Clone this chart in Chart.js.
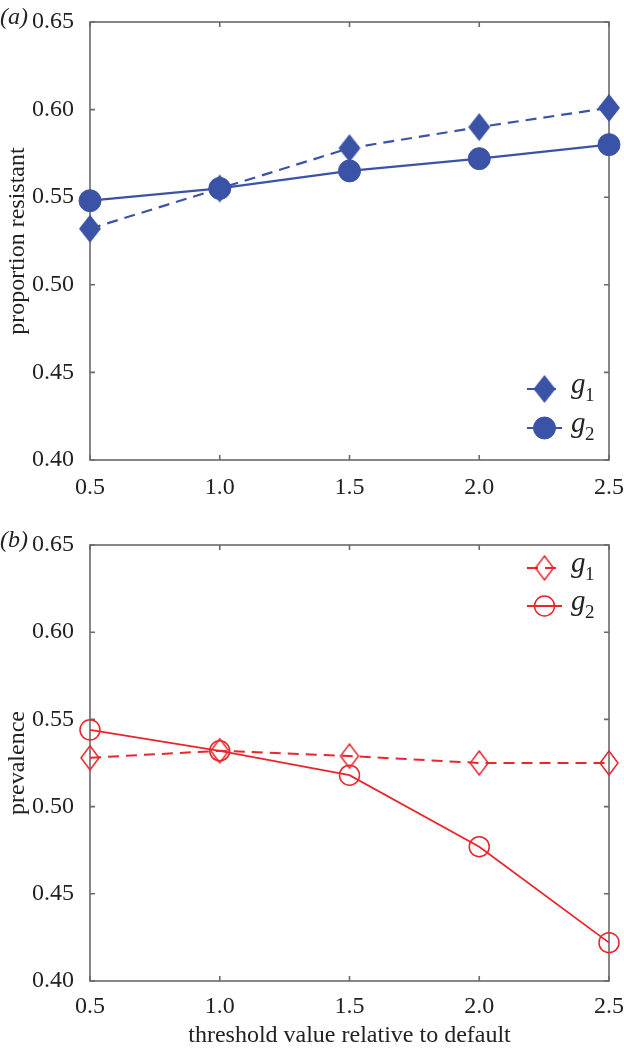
<!DOCTYPE html>
<html lang="en">
<head>
<meta charset="UTF-8">
<title>threshold value relative to default</title>
<script src="https://cdn.jsdelivr.net/npm/chart.js"></script>
<style>
  body { margin: 0; background: #fff; }
  .panel { width: 624px; height: 526px; }
</style>
</head>
<body>
<div class="panel"><canvas id="chartA" width="624" height="526"></canvas></div>
<div class="panel"><canvas id="chartB" width="624" height="526"></canvas></div>
<script>
// data
const thresholds = [0.5, 1.0, 1.5, 2.0, 2.5];
const resistantG1 = [0.532, 0.555, 0.578, 0.590, 0.601];
const resistantG2 = [0.548, 0.555, 0.565, 0.572, 0.580];
const prevalenceG1 = [0.528, 0.532, 0.529, 0.525, 0.525];
const prevalenceG2 = [0.544, 0.532, 0.518, 0.477, 0.422];
const xTicks = [0.5, 1.0, 1.5, 2.0, 2.5];
const yTicks = [0.40, 0.45, 0.50, 0.55, 0.60, 0.65];

const BLUE = '#3b53a6';
const RED = '#e8262c';
const FRAME = '#6a6a6a';
const SERIF = "'Liberation Serif', serif";

Chart.defaults.font.family = SERIF;
Chart.defaults.font.size = 24;
Chart.defaults.color = '#222';

// tall MATLAB-like diamond as a point image
function diamond(w, h, color, filled) {
  const c = document.createElement('canvas');
  c.width = w + 4; c.height = h + 4;
  const g = c.getContext('2d');
  const cx = c.width / 2, cy = c.height / 2;
  g.beginPath();
  g.moveTo(cx, cy - h / 2);
  g.lineTo(cx + w / 2, cy);
  g.lineTo(cx, cy + h / 2);
  g.lineTo(cx - w / 2, cy);
  g.closePath();
  if (filled) { g.fillStyle = color; g.fill(); }
  else { g.strokeStyle = color; g.lineWidth = 1.5; g.stroke(); }
  return c;
}

function pts(values) {
  return thresholds.map((t, i) => ({ x: t, y: values[i] }));
}

// box frame + inward tick marks
const framePlugin = {
  id: 'frame',
  beforeDatasetsDraw(chart) {
    const { ctx, chartArea: a, scales: { x, y } } = chart;
    ctx.save();
    ctx.strokeStyle = FRAME;
    ctx.lineWidth = 1.6;
    ctx.strokeRect(a.left, a.top, a.width, a.height);
    ctx.beginPath();
    x.ticks.forEach(t => {
      const px = x.getPixelForValue(t.value);
      ctx.moveTo(px, a.bottom); ctx.lineTo(px, a.bottom - 5);
      ctx.moveTo(px, a.top); ctx.lineTo(px, a.top + 5);
    });
    y.ticks.forEach(t => {
      const py = y.getPixelForValue(t.value);
      ctx.moveTo(a.left, py); ctx.lineTo(a.left + 5, py);
      ctx.moveTo(a.right, py); ctx.lineTo(a.right - 5, py);
    });
    ctx.stroke();
    ctx.restore();
  }
};

// legend: line through marker, italic g with subscript
const legendPlugin = {
  id: 'gLegend',
  afterDatasetsDraw(chart, args, opts) {
    const { ctx, chartArea: a } = chart;
    chart.data.datasets.forEach((ds, i) => {
      const y = (opts.fromTop ? a.top : a.bottom) + opts.rows[i];
      const x0 = a.right - 82, x1 = a.right - 47;
      ctx.save();
      ctx.strokeStyle = ds.borderColor;
      ctx.lineWidth = ds.borderWidth;
      ctx.setLineDash(ds.borderDash || []);
      ctx.beginPath(); ctx.moveTo(x0, y); ctx.lineTo(x1, y); ctx.stroke();
      ctx.setLineDash([]);
      ctx.fillStyle = ds.pointBackgroundColor;
      ctx.strokeStyle = ds.pointBorderColor;
      ctx.lineWidth = ds.pointBorderWidth;
      Chart.helpers.drawPoint(ctx, {
        pointStyle: ds.pointStyle, radius: ds.pointRadius,
        rotation: 0, borderWidth: ds.pointBorderWidth
      }, (x0 + x1) / 2, y);
      ctx.fillStyle = '#222';
      ctx.textBaseline = 'alphabetic';
      ctx.textAlign = 'left';
      ctx.font = 'italic 29px ' + SERIF;
      ctx.fillText(ds.label.charAt(0), a.right - 38, y + 4);
      ctx.font = '19px ' + SERIF;
      ctx.fillText(ds.label.slice(1), a.right - 24, y + 12);
      ctx.restore();
    });
  }
};

const panelLabel = {
  id: 'panelLabel',
  afterDraw(chart, args, opts) {
    const { ctx, chartArea: a } = chart;
    ctx.save();
    ctx.fillStyle = '#222';
    ctx.font = 'italic 24px ' + SERIF;
    ctx.textBaseline = 'middle';
    ctx.fillText(opts.text, 0, a.top - 4);
    ctx.restore();
  }
};

function makeChart(id, datasets, opts) {
  return new Chart(document.getElementById(id), {
    type: 'line',
    data: { datasets },
    plugins: [framePlugin, legendPlugin, panelLabel],
    options: {
      responsive: false,
      animation: false,
      layout: { padding: { top: opts.top, right: 15, left: 0, bottom: 0 } },
      plugins: {
        legend: { display: false },
        tooltip: { enabled: false },
        gLegend: { rows: opts.rows, fromTop: opts.fromTop },
        panelLabel: { text: opts.label }
      },
      scales: {
        x: {
          type: 'linear', min: 0.5, max: 2.5,
          grid: { display: false }, border: { display: false },
          afterBuildTicks: s => { s.ticks = xTicks.map(v => ({ value: v })); },
          ticks: { padding: opts.xPad, maxRotation: 0, callback: v => v.toFixed(1) },
          title: { display: !!opts.xTitle, text: opts.xTitle || '', padding: { top: 0, bottom: 2 } },
          afterFit: s => { s.height = opts.xHeight; s.paddingLeft = 0; s.paddingRight = 0; }
        },
        y: {
          min: 0.40, max: 0.65,
          grid: { display: false }, border: { display: false },
          afterBuildTicks: s => { s.ticks = yTicks.map(v => ({ value: v })); },
          ticks: { padding: 8, callback: v => v.toFixed(2) },
          title: { display: true, text: opts.yTitle, padding: { top: 3, bottom: 0 } },
          afterFit: s => { s.width = 90; s.paddingTop = 0; s.paddingBottom = 0; }
        }
      }
    }
  });
}

makeChart('chartA', [
  {
    label: 'g1', data: pts(resistantG1), clip: false,
    borderColor: BLUE, borderWidth: 2.2, borderDash: [11, 7],
    pointStyle: diamond(22, 28, BLUE, true), pointRadius: 12,
    pointBackgroundColor: BLUE, pointBorderColor: BLUE, pointBorderWidth: 0
  },
  {
    label: 'g2', data: pts(resistantG2), clip: false,
    borderColor: BLUE, borderWidth: 2.2,
    pointStyle: 'circle', pointRadius: 11,
    pointBackgroundColor: BLUE, pointBorderColor: BLUE, pointBorderWidth: 1
  }
], { top: 22, xHeight: 66, xPad: 5, rows: [-71, -32], fromTop: false, label: '(a)', yTitle: 'proportion resistant' });

makeChart('chartB', [
  {
    label: 'g1', data: pts(prevalenceG1), clip: false,
    borderColor: RED, borderWidth: 2, borderDash: [11, 7],
    pointStyle: diamond(18, 24, RED, false), pointRadius: 11,
    pointBackgroundColor: 'rgba(0,0,0,0)', pointBorderColor: RED, pointBorderWidth: 0
  },
  {
    label: 'g2', data: pts(prevalenceG2), clip: false,
    borderColor: RED, borderWidth: 1.8,
    pointStyle: 'circle', pointRadius: 10,
    pointBackgroundColor: 'rgba(0,0,0,0)', pointBorderColor: RED, pointBorderWidth: 1.5
  }
], { top: 19, xHeight: 71, xPad: 3, rows: [23, 61], fromTop: true, label: '(b)', yTitle: 'prevalence', xTitle: 'threshold value relative to default' });
</script>
</body>
</html>
